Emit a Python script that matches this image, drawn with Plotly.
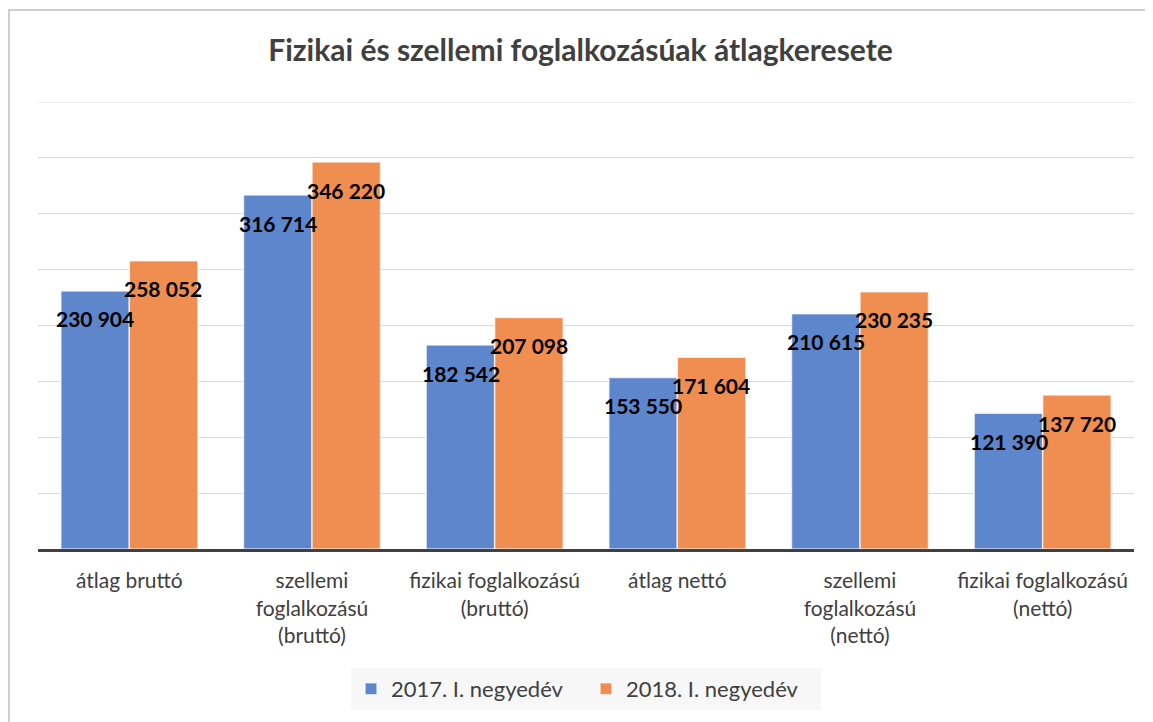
import plotly.graph_objects as go

categories = ["átlag bruttó", "szellemi<br>foglalkozású<br>(bruttó)", "fizikai foglalkozású<br>(bruttó)",
              "átlag nettó", "szellemi<br>foglalkozású<br>(nettó)", "fizikai foglalkozású<br>(nettó)"]
series_names = ["2017. I. negyedév", "2018. I. negyedév"]
values_2017 = [230904, 316714, 182542, 153550, 210615, 121390]
values_2018 = [258052, 346220, 207098, 171604, 230235, 137720]
colors = ["rgb(94,134,205)", "rgb(239,142,80)"]
y_max = 400000
y_step = 50000

def fmt(v):
    return f"{v:,}".replace(",", " ")

W, H = 1145, 714  # page body has an 8px margin
L, T, PW, PH = 30, 94, 1096, 447

fig = go.Figure()
for name, vals, col in zip(series_names, [values_2017, values_2018], colors):
    fig.add_trace(go.Bar(x=categories, y=vals, name=name,
                         marker=dict(color=col, line=dict(color="rgba(255,255,255,0.7)", width=1.5))))

annotations = []
for vals, shift in [(values_2017, -34), (values_2018, 34)]:
    for c, v in zip(categories, vals):
        annotations.append(dict(x=c, y=v, text=fmt(v), showarrow=False, xshift=shift, yshift=-28,
                                font=dict(family="Lato", size=21, color="black", weight="bold")))

fig.update_layout(
    width=W, height=H,
    margin=dict(l=L, r=W - L - PW, t=T, b=H - T - PH),
    paper_bgcolor="white", plot_bgcolor="white",
    bargap=0.25, bargroupgap=0,
    title=dict(text="<b>Fizikai és szellemi foglalkozásúak átlagkeresete</b>",
               x=0.5, xanchor="center", y=1 - 42 / H, yanchor="middle", yref="container",
               font=dict(family="Lato", size=30, color="#404040")),
    font=dict(family="Lato", size=21, color="#404040"),
    showlegend=True,
    legend=dict(orientation="h", x=0.5, xanchor="center", y=(T + PH - 681) / PH, yanchor="middle",
                bgcolor="#f7f7f7", font=dict(size=22, color="#404040"), itemwidth=30,
                traceorder="normal", entrywidth=190, entrywidthmode="pixels"),
    annotations=annotations,
    shapes=[dict(type="rect", xref="paper", yref="paper",
                 x0=(1 - L) / PW, x1=(1142 - L) / PW, y0=(T + PH - 730) / PH, y1=(T + PH - 2) / PH,
                 line=dict(color="#bfbfbf", width=1.5), fillcolor="rgba(0,0,0,0)", layer="below"),
            dict(type="line", xref="paper", yref="y", x0=0, x1=1, y0=y_max, y1=y_max,
                 line=dict(color="#d9d9d9", width=1), layer="below")],
)
fig.update_yaxes(range=[0, y_max], dtick=y_step, showticklabels=False, showgrid=True,
                 gridcolor="#d9d9d9", gridwidth=1, zeroline=False)
fig.update_xaxes(showline=True, linecolor="#404040", linewidth=3, ticks="outside", ticklen=11,
                 tickcolor="rgba(0,0,0,0)", tickfont=dict(size=21, color="#404040"))

fig.write_html("out.html")
